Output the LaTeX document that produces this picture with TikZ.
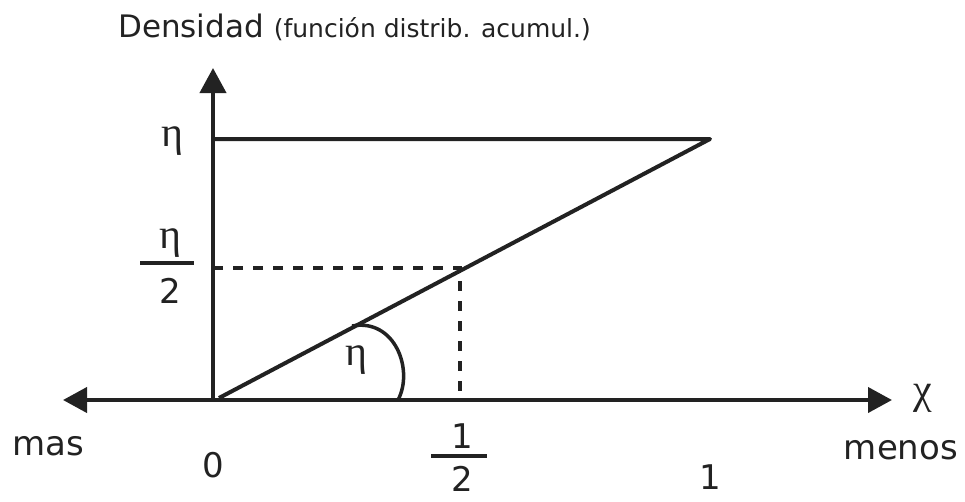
\documentclass[tikz,border=0pt]{standalone}
\usepackage{fontspec}
\setmainfont{DejaVu Sans}
\newfontfamily\greekfont{Liberation Serif}
\usetikzlibrary{arrows.meta,positioning}
\definecolor{ink}{HTML}{222222}
\tikzset{
  every node/.style={text=ink,inner sep=0pt},
  axisline/.style={line width=4pt,draw=ink,{Triangle[length=24pt,width=25pt]}-{Triangle[length=24pt,width=25pt]}},
  upaxis/.style={line width=4pt,draw=ink,-{Triangle[length=25pt,width=26pt]}},
  graphline/.style={line width=4pt,draw=ink,line join=round},
  guide/.style={line width=4pt,draw=ink,dash pattern=on 10pt off 10pt},
  fracbar/.style={line width=4pt,draw=ink},
  anglearc/.style={line width=3.5pt,draw=ink},
  lbl/.style={font=\fontsize{34}{40}\selectfont},
  greeklbl/.style={font=\greekfont\fontsize{42}{48}\selectfont}
}
\begin{document}
\begin{tikzpicture}[x=1pt,y=-1pt]
  \useasboundingbox (0,0) rectangle (965,501);

  % axes
  \coordinate (O) at (213,400);
  \coordinate (xleft) at (63,400);
  \coordinate (xright) at (892,400);
  \coordinate (ytop) at (213,68);
  \draw[axisline] (xleft) -- (xright);
  \draw[upaxis] (O) -- (ytop);

  % density curve
  \coordinate (start) at (219,398);
  \coordinate (peak) at (710,139);
  \coordinate (ylevel) at (213,139);
  \draw[graphline] (ylevel) -- (peak) -- (start);

  % half level guides
  \coordinate (yhalf) at (213,268);
  \coordinate (mid) at (460,268);
  \coordinate (midfoot) at (460,392);
  \draw[guide] (yhalf) -- (mid) -- (midfoot);

  % angle
  \coordinate (arcA) at (352,326);
  \coordinate (arcB) at (398,400);
  \draw[anglearc] (arcA) .. controls (395,318) and (414,370) .. (arcB);
  \node[greeklbl] (angeta) at (356,360) {η};

  % title
  \node[anchor=base west] (title) at (118,37)
    {\fontsize{31}{36}\selectfont Densidad \fontsize{25}{30}\selectfont(función distrib. acumul.)};

  % y labels
  \node[greeklbl] (etatop) at (172,141) {η};
  \node[greeklbl] (etahalf) at (170,243) {η};
  \draw[fracbar] (140,263) -- (194,263);
  \node[lbl] (two) at (170,291) {2};

  % x labels
  \node[greeklbl] (chi) at (923,398) {χ};
  \node[lbl] (mas) at (48,446) {mas};
  \node[lbl] (menos) at (901,450) {menos};
  \node[lbl] (zero) at (213,465) {0};
  \node[lbl] (onehalf) at (462,436) {1};
  \draw[fracbar] (431,456) -- (487,456);
  \node[lbl] (twohalf) at (462,479) {2};
  \node[lbl] (one) at (710,477) {1};
\end{tikzpicture}
\end{document}
